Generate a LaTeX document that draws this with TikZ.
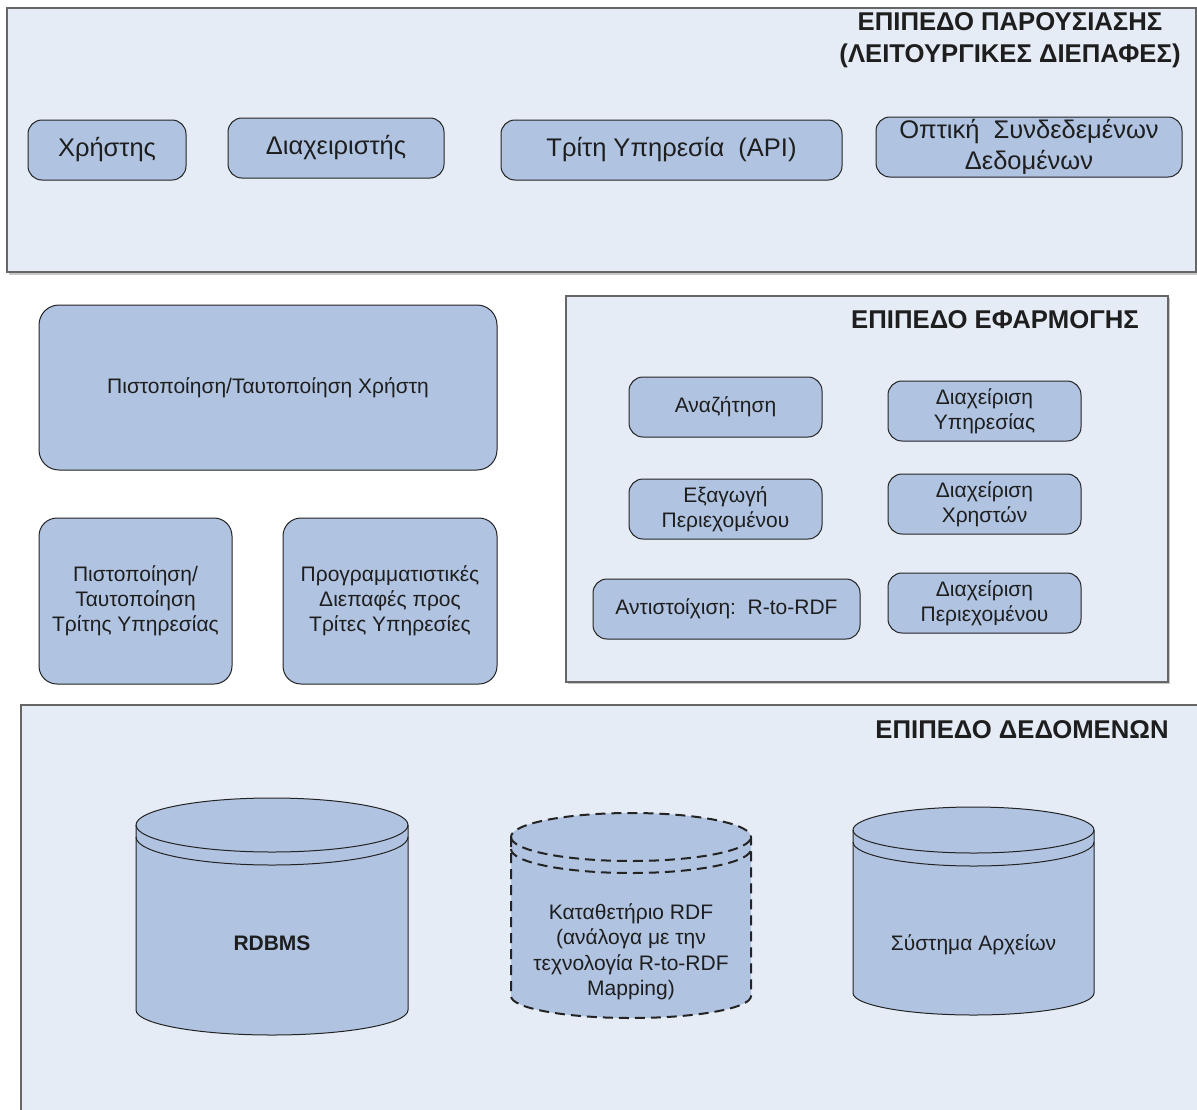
\documentclass[tikz,border=0pt]{standalone}
\usepackage{fontspec}
\setmainfont{Liberation Sans}
\definecolor{panelfill}{RGB}{230,236,246}
\definecolor{boxfill}{RGB}{176,196,226}
\definecolor{lineclr}{RGB}{35,35,35}
\definecolor{txtclr}{RGB}{30,30,30}
\begin{document}
\begin{tikzpicture}[x=1pt,y=-1pt,
  panel/.style={fill=panelfill,draw=black!60,line width=1.3pt},
  shade/.style={fill=black!22},
  box/.style={draw=lineclr,fill=boxfill,line width=1pt,rounded corners=14pt,inner sep=0pt,align=center,text=txtclr},
  toptxt/.style={font=\fontsize{25.5}{31}\selectfont},
  midtxt/.style={font=\fontsize{21}{25}\selectfont},
  ttl/.style={font=\fontsize{25.7}{32}\selectfont\bfseries,align=center,inner sep=0pt,text=txtclr},
  lbl/.style={font=\fontsize{21}{25.5}\selectfont,align=center,inner sep=0pt,text=txtclr},
  cylline/.style={draw=lineclr,line width=1pt},
  cyldash/.style={draw=lineclr,line width=2pt,dash pattern=on 10pt off 6pt}]
\useasboundingbox (0,0) rectangle (1197,1109);
\clip (0,0) rectangle (1197,1109);
\fill[white] (0,0) rectangle (1197,1109);

% ---------- presentation layer ----------
\fill[shade] (9,10) rectangle (1199,275);
\draw[panel] (7,8) rectangle (1196,272);
\node[ttl] (t1) at (1010,40) {ΕΠΙΠΕΔΟ ΠΑΡΟΥΣΙΑΣΗΣ\\(ΛΕΙΤΟΥΡΓΙΚΕΣ ΔΙΕΠΑΦΕΣ)};
\node[box,toptxt,minimum width=158pt,minimum height=60pt] (u1) at (107,150) {Χρήστης};
\node[box,toptxt,minimum width=216pt,minimum height=60pt] (u2) at (336,148) {Διαχειριστής};
\node[box,toptxt,minimum width=341pt,minimum height=60pt] (u3) at (671.5,150) {Τρίτη Υπηρεσία\ \ (API)};
\node[box,toptxt,minimum width=306pt,minimum height=60pt] (u4) at (1029,147) {Οπτική\ \ Συνδεδεμένων\\Δεδομένων};

% ---------- left middle ----------
\node[box,midtxt,rounded corners=20pt,minimum width=458pt,minimum height=165pt] (a1) at (268,387.5) {Πιστοποίηση/Ταυτοποίηση Χρήστη};
\node[box,midtxt,rounded corners=18pt,minimum width=193pt,minimum height=166pt] (a2) at (135.5,601) {Πιστοποίηση/\\Ταυτοποίηση\\Τρίτης Υπηρεσίας};
\node[box,midtxt,rounded corners=18pt,minimum width=214pt,minimum height=166pt] (a3) at (390,601) {Προγραμματιστικές\\Διεπαφές προς\\Τρίτες Υπηρεσίες};

% ---------- application layer ----------
\fill[shade] (568,298) rectangle (1170,684);
\draw[panel] (566,296) rectangle (1168,682);
\node[ttl] (t2) at (995,320) {ΕΠΙΠΕΔΟ ΕΦΑΡΜΟΓΗΣ};
\node[box,midtxt,minimum width=193pt,minimum height=60pt] (b1) at (725.5,407) {Αναζήτηση};
\node[box,midtxt,minimum width=193pt,minimum height=60pt] (b2) at (984.5,411) {Διαχείριση\\Υπηρεσίας};
\node[box,midtxt,minimum width=193pt,minimum height=60pt] (b3) at (725.5,509) {Εξαγωγή\\Περιεχομένου};
\node[box,midtxt,minimum width=193pt,minimum height=60pt] (b4) at (984.5,504) {Διαχείριση\\Χρηστών};
\node[box,midtxt,minimum width=267pt,minimum height=60pt] (b5) at (726.5,609) {Αντιστοίχιση:\ \ R-to-RDF};
\node[box,midtxt,minimum width=193pt,minimum height=60pt] (b6) at (984.5,603) {Διαχείριση\\Περιεχομένου};

% ---------- data layer ----------
\fill[panelfill] (21,705) rectangle (1210,1120);
\draw[draw=black!60,line width=1.3pt] (21,1120) -- (21,705) -- (1210,705);
\node[ttl] (t3) at (1022,730) {ΕΠΙΠΕΔΟ ΔΕΔΟΜΕΝΩΝ};

% RDBMS cylinder
\fill[boxfill] (136,825) -- (136,1010) arc[start angle=180,end angle=360,x radius=136pt,y radius=25pt]
  -- (408,825) arc[start angle=0,end angle=180,x radius=136pt,y radius=27pt] -- cycle;
\draw[cylline] (136,825) -- (136,1010) arc[start angle=180,end angle=360,x radius=136pt,y radius=25pt]
  -- (408,825) arc[start angle=0,end angle=180,x radius=136pt,y radius=27pt];
\draw[cylline] (136,825) arc[start angle=180,end angle=360,x radius=136pt,y radius=27pt];
\draw[cylline] (136,837) arc[start angle=180,end angle=360,x radius=136pt,y radius=28pt];
\node[lbl,font=\fontsize{21}{25.5}\selectfont\bfseries] (c1) at (272,943) {RDBMS};

% RDF store cylinder (dashed)
\fill[boxfill] (511,837) -- (511,996) arc[start angle=180,end angle=360,x radius=120pt,y radius=22pt]
  -- (751,837) arc[start angle=0,end angle=180,x radius=120pt,y radius=24pt] -- cycle;
\draw[cyldash] (511,837) -- (511,996) arc[start angle=180,end angle=360,x radius=120pt,y radius=22pt]
  -- (751,837) arc[start angle=0,end angle=180,x radius=120pt,y radius=24pt];
\draw[cyldash] (511,837) arc[start angle=180,end angle=360,x radius=120pt,y radius=24pt];
\draw[cyldash] (511,849) arc[start angle=180,end angle=360,x radius=120pt,y radius=24pt];
\node[lbl] (c2) at (631,952) {Καταθετήριο RDF\\(ανάλογα με την\\τεχνολογία R-to-RDF\\Mapping)};

% File system cylinder
\fill[boxfill] (853,830) -- (853,993) arc[start angle=180,end angle=360,x radius=120.5pt,y radius=22pt]
  -- (1094,830) arc[start angle=0,end angle=180,x radius=120.5pt,y radius=23pt] -- cycle;
\draw[cylline] (853,830) -- (853,993) arc[start angle=180,end angle=360,x radius=120.5pt,y radius=22pt]
  -- (1094,830) arc[start angle=0,end angle=180,x radius=120.5pt,y radius=23pt];
\draw[cylline] (853,830) arc[start angle=180,end angle=360,x radius=120.5pt,y radius=23pt];
\draw[cylline] (853,842) arc[start angle=180,end angle=360,x radius=120.5pt,y radius=24pt];
\node[lbl] (c3) at (973.5,945) {Σύστημα Αρχείων};
\end{tikzpicture}
\end{document}
